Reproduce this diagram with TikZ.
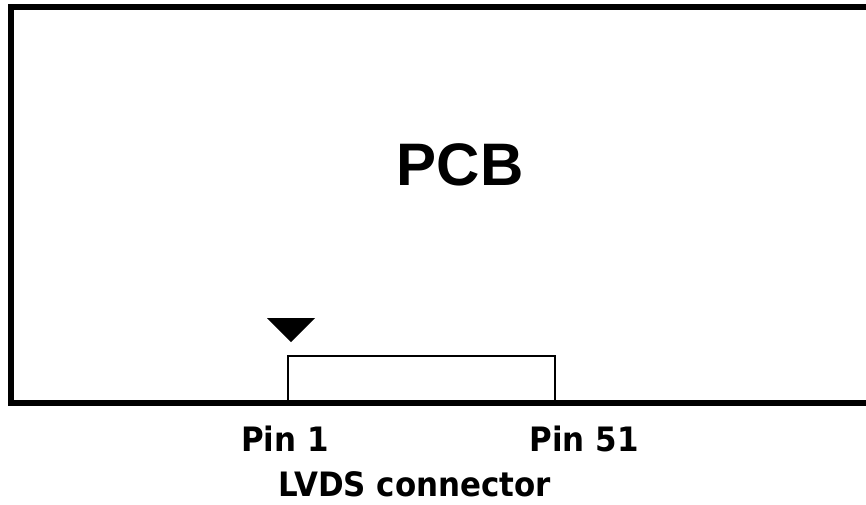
\documentclass[tikz,border=0pt]{standalone}
\usepackage{fontspec}
\usepackage{graphicx}
\setmainfont{Liberation Sans}
\newfontfamily\labelfont{DejaVu Sans}
\usepackage{tikz}
\tikzset{>=latex}
\usetikzlibrary{positioning}
\def\boardw{6}
\newcommand{\pinlabel}[1]{\scalebox{0.92}[1]{#1}}
\tikzset{pinlbl/.style={font=\labelfont\bfseries\fontsize{33.6}{33.6}\selectfont, anchor=base, inner sep=0pt}}

\begin{document}
\begin{tikzpicture}[x=1pt, y=-1pt]
\useasboundingbox (0,0) rectangle (866,504);

% board outline, open on the right
\draw[line width = \boardw, miter limit=10] (880,7) -- (11,7) -- (11,403) -- (880,403);

\node[font=\bfseries\fontsize{60}{60}\selectfont, anchor=base] (pcb) at (460,185) {PCB};

% connector
\node[draw, line width = 2, minimum width=267, minimum height=47, inner sep=0, anchor=south west] (conn) at (287,404) {};
\fill (267,318) -- (315,318) -- (291,342) -- cycle;

\foreach \name/\x/\txt in {pin1/285/Pin 1, pin51/584/Pin 51}{
    \node[pinlbl] (\name) at (\x,451) {\pinlabel{\txt}};
}
\node[pinlbl] (lvds) at (415,496) {\pinlabel{LVDS connector}};

\end{tikzpicture}
\end{document}
